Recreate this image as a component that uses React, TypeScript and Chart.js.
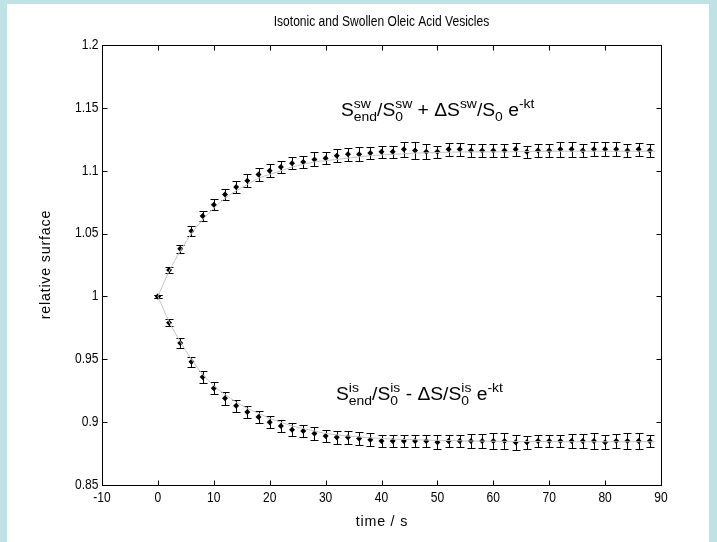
import React, { useEffect, useRef } from "react";
import { Chart, registerables } from "chart.js";

Chart.register(...registerables);

// ---- data ----
const times = [0, 2, 4, 6, 8, 10, 12, 14, 16, 18, 20, 22, 24, 26, 28, 30, 32, 34, 36, 38, 40, 42, 44, 46, 48, 50, 52, 54, 56, 58, 60, 62, 64, 66, 68, 70, 72, 74, 76, 78, 80, 82, 84, 86, 88];

const swollenValues = [1.0, 1.021, 1.038, 1.052, 1.064, 1.073, 1.081, 1.087, 1.092, 1.097, 1.1, 1.103, 1.106, 1.107, 1.109, 1.11, 1.112, 1.113, 1.113, 1.114, 1.115, 1.115, 1.117, 1.116, 1.115, 1.115, 1.117, 1.117, 1.116, 1.116, 1.116, 1.116, 1.117, 1.115, 1.116, 1.116, 1.117, 1.117, 1.116, 1.117, 1.117, 1.117, 1.116, 1.117, 1.116];
const swollenErrors = [0.001, 0.0027, 0.0033, 0.004, 0.004, 0.0042, 0.0045, 0.0045, 0.005, 0.005, 0.005, 0.005, 0.005, 0.005, 0.0055, 0.005, 0.005, 0.005, 0.0055, 0.005, 0.005, 0.005, 0.006, 0.0065, 0.006, 0.005, 0.005, 0.005, 0.005, 0.005, 0.005, 0.005, 0.005, 0.005, 0.005, 0.005, 0.006, 0.006, 0.005, 0.0055, 0.0055, 0.0055, 0.005, 0.005, 0.005];

const isotonicValues = [1.0, 0.979, 0.963, 0.948, 0.936, 0.927, 0.919, 0.913, 0.908, 0.904, 0.9, 0.897, 0.894, 0.893, 0.891, 0.889, 0.888, 0.888, 0.887, 0.886, 0.885, 0.885, 0.885, 0.885, 0.885, 0.884, 0.885, 0.885, 0.885, 0.885, 0.885, 0.885, 0.884, 0.884, 0.885, 0.885, 0.885, 0.885, 0.885, 0.885, 0.884, 0.885, 0.885, 0.885, 0.885];
const isotonicErrors = [0.001, 0.0027, 0.004, 0.004, 0.005, 0.005, 0.005, 0.005, 0.005, 0.005, 0.005, 0.005, 0.005, 0.005, 0.005, 0.005, 0.005, 0.005, 0.005, 0.005, 0.005, 0.005, 0.005, 0.005, 0.005, 0.0055, 0.005, 0.005, 0.0055, 0.0055, 0.006, 0.006, 0.006, 0.005, 0.005, 0.005, 0.005, 0.0055, 0.0055, 0.006, 0.0055, 0.0055, 0.006, 0.006, 0.005];

const fitTimes = [0, 2, 4, 6, 8, 10, 12, 14, 16, 18, 20, 22, 24, 26, 28, 30, 34, 38, 42, 46, 50, 56, 62, 70, 78, 89];
const swollenFit = [1.0, 1.02, 1.036, 1.05, 1.061, 1.07, 1.078, 1.084, 1.089, 1.094, 1.097, 1.1, 1.103, 1.105, 1.107, 1.108, 1.11, 1.112, 1.113, 1.114, 1.1145, 1.115, 1.115, 1.1155, 1.1155, 1.1155];
const isotonicFit = [1.0, 0.98, 0.964, 0.95, 0.938, 0.929, 0.922, 0.916, 0.911, 0.907, 0.903, 0.9, 0.897, 0.895, 0.893, 0.891, 0.889, 0.8875, 0.8865, 0.886, 0.8855, 0.885, 0.8847, 0.8845, 0.8844, 0.8844];

const xTicks = [-10, 0, 10, 20, 30, 40, 50, 60, 70, 80, 90];
const yTicks = [0.85, 0.9, 0.95, 1, 1.05, 1.1, 1.15, 1.2];

const titleText = "Isotonic and Swollen Oleic Acid Vesicles";
const xLabel = "time / s";
const yLabel = "relative surface";

type Seg = { t: string; sup?: string; sub?: string };
const upperFormula: Seg[] = [
  { t: "S", sup: "sw", sub: "end" },
  { t: "/S", sup: "sw", sub: "0" },
  { t: " + \u0394S", sup: "sw" },
  { t: "/S", sub: "0" },
  { t: " e", sup: "-kt" },
];
const lowerFormula: Seg[] = [
  { t: "S", sup: "is", sub: "end" },
  { t: "/S", sup: "is", sub: "0" },
  { t: " - \u0394S/S", sup: "is", sub: "0" },
  { t: " e", sup: "-kt" },
];

const FONT = "'Liberation Sans', Arial, Helvetica, sans-serif";
const SX = 0.86;

function textWidth(ctx: CanvasRenderingContext2D, text: string, size: number, sx: number, ls: number) {
  ctx.save();
  ctx.font = `${size}px ${FONT}`;
  let w = 0;
  if (ls === 0) w = ctx.measureText(text).width * sx;
  else {
    for (const ch of text) w += ctx.measureText(ch).width * sx + ls;
    w -= ls;
  }
  ctx.restore();
  return w;
}

function drawText(
  ctx: CanvasRenderingContext2D,
  text: string,
  x: number,
  y: number,
  size: number,
  align: "left" | "center" | "right",
  baseline: CanvasTextBaseline,
  sx = SX,
  ls = 0
) {
  const w = textWidth(ctx, text, size, sx, ls);
  let x0 = x;
  if (align === "center") x0 = x - w / 2;
  else if (align === "right") x0 = x - w;
  ctx.save();
  ctx.font = `${size}px ${FONT}`;
  ctx.textBaseline = baseline;
  ctx.textAlign = "left";
  if (ls === 0) {
    ctx.translate(x0, y);
    ctx.scale(sx, 1);
    ctx.fillText(text, 0, 0);
  } else {
    let cx = x0;
    for (const ch of text) {
      ctx.save();
      ctx.translate(cx, y);
      ctx.scale(sx, 1);
      ctx.fillText(ch, 0, 0);
      ctx.restore();
      cx += ctx.measureText(ch).width * sx + ls;
    }
  }
  ctx.restore();
  return w;
}

function drawFormula(ctx: CanvasRenderingContext2D, segs: Seg[], x: number, y: number, main: number, small: number, sx: number) {
  let cx = x;
  for (const s of segs) {
    cx += drawText(ctx, s.t, cx, y, main, "left", "alphabetic", sx);
    let adv = 0;
    if (s.sup) adv = Math.max(adv, drawText(ctx, s.sup, cx, y - 8, small, "left", "alphabetic", sx));
    if (s.sub) adv = Math.max(adv, drawText(ctx, s.sub, cx, y + 5, small, "left", "alphabetic", sx));
    cx += adv;
  }
  return cx - x;
}

const matlabPlugin = {
  id: "matlabAxes",
  beforeDatasetsDraw(chart: any) {
    const ctx: CanvasRenderingContext2D = chart.ctx;
    const xs = chart.scales.x;
    const ys = chart.scales.y;
    ctx.save();
    ctx.strokeStyle = "#000";
    ctx.lineWidth = 1;
    const drawBars = (vals: number[], errs: number[]) => {
      vals.forEach((v, i) => {
        const px = Math.round(xs.getPixelForValue(times[i])) + 0.5;
        const yt = Math.round(ys.getPixelForValue(v + errs[i])) + 0.5;
        const yb = Math.round(ys.getPixelForValue(v - errs[i])) + 0.5;
        ctx.beginPath();
        ctx.moveTo(px, yt);
        ctx.lineTo(px, yb);
        ctx.moveTo(px - 4, yt);
        ctx.lineTo(px + 4, yt);
        ctx.moveTo(px - 4, yb);
        ctx.lineTo(px + 4, yb);
        ctx.stroke();
      });
    };
    drawBars(swollenValues, swollenErrors);
    drawBars(isotonicValues, isotonicErrors);
    ctx.restore();
  },
  afterDraw(chart: any) {
    const ctx: CanvasRenderingContext2D = chart.ctx;
    const { left, right, top, bottom } = chart.chartArea;
    const xs = chart.scales.x;
    const ys = chart.scales.y;
    ctx.save();
    ctx.strokeStyle = "#000";
    ctx.fillStyle = "#000";
    ctx.lineWidth = 1;
    const L = Math.round(left) + 0.5;
    const R = Math.round(right) + 0.5;
    const T = Math.round(top) + 0.5;
    const B = Math.round(bottom) + 0.5;
    ctx.strokeRect(L, T, R - L, B - T);
    const tl = 5;
    ctx.beginPath();
    xTicks.forEach((t) => {
      const px = Math.round(xs.getPixelForValue(t)) + 0.5;
      ctx.moveTo(px, B);
      ctx.lineTo(px, B - tl);
      ctx.moveTo(px, T);
      ctx.lineTo(px, T + tl);
    });
    yTicks.forEach((t) => {
      const py = Math.round(ys.getPixelForValue(t)) + 0.5;
      ctx.moveTo(L, py);
      ctx.lineTo(L + tl, py);
      ctx.moveTo(R, py);
      ctx.lineTo(R - tl, py);
    });
    ctx.stroke();

    // tick labels
    xTicks.forEach((t) => {
      drawText(ctx, String(t), xs.getPixelForValue(t), B + 6, 14, "center", "top");
    });
    yTicks.forEach((t) => {
      drawText(ctx, String(t), L - 4, ys.getPixelForValue(t), 14, "right", "middle");
    });

    // title and axis labels
    const cxp = (left + right) / 2;
    drawText(ctx, titleText, cxp, 18, 14, "center", "middle");
    drawText(ctx, xLabel, cxp, B + 36, 15, "center", "middle", 0.95, 0.8);
    ctx.save();
    ctx.translate(39, (top + bottom) / 2);
    ctx.rotate(-Math.PI / 2);
    drawText(ctx, yLabel, 0, 0, 15, "center", "middle", 0.95, 0.8);
    ctx.restore();

    // formulas
    drawFormula(ctx, upperFormula, 334, 112, 18, 13, 1.07);
    drawFormula(ctx, lowerFormula, 329, 396, 18, 13, 1.07);
    ctx.restore();
  },
};

export default function App() {
  const ref = useRef<HTMLCanvasElement>(null);
  useEffect(() => {
    const canvas = ref.current;
    if (!canvas) return;
    const chart = new Chart(canvas, {
      type: "scatter",
      data: {
        datasets: [
          {
            type: "line",
            data: fitTimes.map((t, i) => ({ x: t, y: swollenFit[i] })),
            borderColor: "#c4c4c4",
            borderWidth: 1,
            pointRadius: 0,
            fill: false,
            cubicInterpolationMode: "monotone",
          },
          {
            type: "line",
            data: fitTimes.map((t, i) => ({ x: t, y: isotonicFit[i] })),
            borderColor: "#c4c4c4",
            borderWidth: 1,
            pointRadius: 0,
            fill: false,
            cubicInterpolationMode: "monotone",
          },
          {
            data: times.map((t, i) => ({ x: t, y: swollenValues[i] })),
            showLine: false,
            pointStyle: "rectRot",
            pointRadius: 3,
            backgroundColor: "#000",
            borderColor: "#000",
            borderWidth: 0,
          },
          {
            data: times.map((t, i) => ({ x: t, y: isotonicValues[i] })),
            showLine: false,
            pointStyle: "rectRot",
            pointRadius: 3,
            backgroundColor: "#000",
            borderColor: "#000",
            borderWidth: 0,
          },
        ],
      } as any,
      options: {
        animation: false,
        responsive: false,
        devicePixelRatio: 1,
        events: [],
        layout: { padding: { left: 95, top: 41, right: 48, bottom: 57 } },
        plugins: {
          legend: { display: false },
          tooltip: { enabled: false },
          title: { display: false },
        },
        scales: {
          x: { type: "linear", min: -10, max: 90, display: false },
          y: { type: "linear", min: 0.85, max: 1.2, display: false },
        },
      },
      plugins: [matlabPlugin as any],
    });
    return () => chart.destroy();
  }, []);

  return (
    <div style={{ position: "fixed", left: 0, top: 0, width: 717, height: 542, background: "#bfe2e5" }}>
      <canvas
        ref={ref}
        width={702}
        height={538}
        style={{ position: "absolute", left: 7, top: 4, width: 702, height: 538, background: "#fff", display: "block" }}
      />
    </div>
  );
}
